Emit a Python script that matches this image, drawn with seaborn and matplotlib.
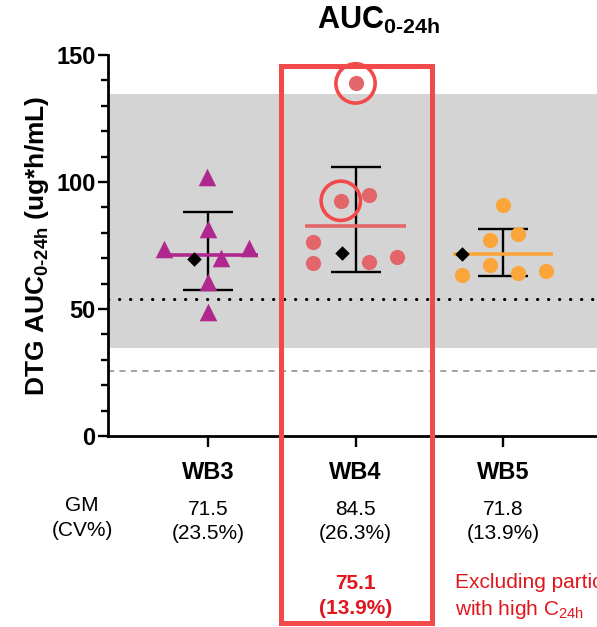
import matplotlib
matplotlib.use('Agg')
import matplotlib.pyplot as plt
from matplotlib.patches import Rectangle
import numpy as np
import pandas as pd
import seaborn as sns

# data
groups = ['WB3', 'WB4', 'WB5']
wb3_vals = [102.1, 81.5, 73.7, 74.1, 70.0, 60.8, 48.7]
wb3_jitter = [-0.01, 0.0, -0.30, 0.28, 0.09, 0.0, 0.0]
wb4_vals = [138.8, 92.6, 94.8, 76.5, 68.2, 68.6, 70.6]
wb4_jitter = [0.0, -0.10, 0.09, -0.29, -0.29, 0.09, 0.28]
wb5_vals = [90.8, 79.5, 77.2, 67.3, 63.4, 64.1, 65.1]
wb5_jitter = [0.0, 0.10, -0.09, -0.09, -0.28, 0.10, 0.29]
mean_line = [71.3, 82.8, 71.8]
err_low = [57.6, 64.7, 63.1]
err_high = [88.3, 106.0, 81.5]
diamond_vals = [69.6, 72.2, 71.7]
diamond_jitter = [-0.095, -0.095, -0.28]
highlight_idx = [0, 1]  # WB4 points with high C24h
gm_text = ['71.5', '84.5', '71.8']
cv_text = ['(23.5%)', '(26.3%)', '(13.9%)']
target_range = (34.6, 134.6)
dotted_ref = 53.9
dashed_ref = 25.5

colors = {'WB3': '#B0288E', 'WB4': '#E3666A', 'WB5': '#FBA53B'}
box_red = '#F24A4A'
text_red = '#E0161C'

sns.set_style('ticks', {'axes.edgecolor': 'black', 'text.color': 'black',
                        'axes.labelcolor': 'black', 'xtick.color': 'black',
                        'ytick.color': 'black'})
plt.rcParams['font.family'] = ['Liberation Sans', 'DejaVu Sans']
plt.rcParams['mathtext.fontset'] = 'custom'
plt.rcParams['mathtext.rm'] = 'Liberation Sans'
plt.rcParams['mathtext.bf'] = 'Liberation Sans:bold'
plt.rcParams['mathtext.it'] = 'Liberation Sans:italic'

fig = plt.figure(figsize=(5.97, 6.27), dpi=100)
ax = fig.add_axes([108 / 597, 1 - 436 / 627, 1 - 108 / 597, 381 / 627])

pts = pd.DataFrame({
    'group': ['WB3'] * 7 + ['WB4'] * 7 + ['WB5'] * 7,
    'value': wb3_vals + wb4_vals + wb5_vals,
    'jitter': wb3_jitter + wb4_jitter + wb5_jitter,
})
pts['x'] = pts['group'].map({g: i for i, g in enumerate(groups)}) + pts['jitter']

# reference band and lines
ax.axhspan(*target_range, color='#D4D4D4', lw=0, zorder=0)
ax.axhline(dotted_ref, color='black', lw=2.2, ls=(0, (0.1, 3.5)),
           dash_capstyle='round', zorder=1)
ax.axhline(dashed_ref, color='#8A8A8A', lw=1.1, ls=(0, (4, 3.5)), zorder=1)

xs = np.arange(len(groups))
lo, hi = np.array(err_low), np.array(err_high)
ax.errorbar(xs, (lo + hi) / 2, yerr=(hi - lo) / 2, fmt='none', ecolor='black',
            elinewidth=1.7, capsize=18, capthick=1.7, zorder=2)
for i, g in enumerate(groups):
    ax.hlines(mean_line[i], i - 0.34, i + 0.34, color=colors[g], lw=2.6, zorder=3)

for g in groups:
    sub = pts[pts.group == g]
    sns.scatterplot(data=sub, x='x', y='value', ax=ax, color=colors[g],
                    marker='^' if g == 'WB3' else 'o',
                    s=160 if g == 'WB3' else 120, linewidth=0, zorder=4,
                    clip_on=False, legend=False)

sns.scatterplot(x=xs + np.array(diamond_jitter), y=diamond_vals, ax=ax,
                color='black', marker='D', s=55, linewidth=0, zorder=5)

wb4 = pts[pts.group == 'WB4'].iloc[highlight_idx]
ax.scatter(wb4['x'], wb4['value'], s=800, facecolors='none',
           edgecolors=box_red, linewidths=2.6, zorder=6, clip_on=False)

ax.set_xlim(-0.678, 2.637)
ax.set_ylim(0, 150)
ax.set_xticks(xs)
ax.set_xticklabels(groups, fontsize=17, fontweight='bold')
ax.set_yticks([0, 50, 100, 150])
ax.set_yticks(np.arange(0, 151, 10), minor=True)
ax.tick_params(axis='y', which='major', length=7, width=1.7, labelsize=17, pad=2)
ax.tick_params(axis='y', which='minor', length=5, width=1.7)
ax.tick_params(axis='x', length=8, width=1.7, pad=10)
for lab in ax.get_yticklabels():
    lab.set_fontweight('bold')
for side in ['left', 'bottom']:
    ax.spines[side].set_linewidth(2)
for side in ['top', 'right']:
    ax.spines[side].set_visible(False)
ax.set_xlabel('')
ax.set_ylabel(r'DTG AUC$_{\mathbf{0‐24h}}$ (ug*h/mL)', fontsize=19,
              fontweight='bold', labelpad=4)

# title
fig.text(378 / 597, 1 - 20 / 627, r'AUC$_{\mathbf{0‐24h}}$', fontsize=22,
         fontweight='bold', ha='center', va='center')

# GM (CV%) table under the axis
xt = ax.get_xaxis_transform()
fig.text(82 / 597, 1 - 518 / 627, 'GM\n(CV%)', fontsize=15, ha='center',
         va='center', linespacing=1.35)
for i in range(len(groups)):
    ax.text(i, -0.225, gm_text[i] + '\n' + cv_text[i], transform=xt,
            fontsize=15, ha='center', va='center', linespacing=1.35)
ax.text(1, -0.42, '75.1\n(13.9%)', transform=xt, fontsize=15,
        fontweight='bold', color=text_red, ha='center', va='center',
        linespacing=1.35)
# the reference crops this note at the right edge
fig.text(455 / 597, 1 - 597 / 627,
         'Excluding participant\nwith high C$_{\\mathrm{24h}}$',
         fontsize=15, color=text_red, ha='left', va='center', linespacing=1.35)

# red highlight box around WB4
fig.patches.append(Rectangle((281 / 597, 1 - 623 / 627), 151 / 597, 557 / 627,
                             transform=fig.transFigure, fill=False,
                             ec=box_red, lw=3.6, zorder=10))

fig.savefig('out.png', dpi=100)
